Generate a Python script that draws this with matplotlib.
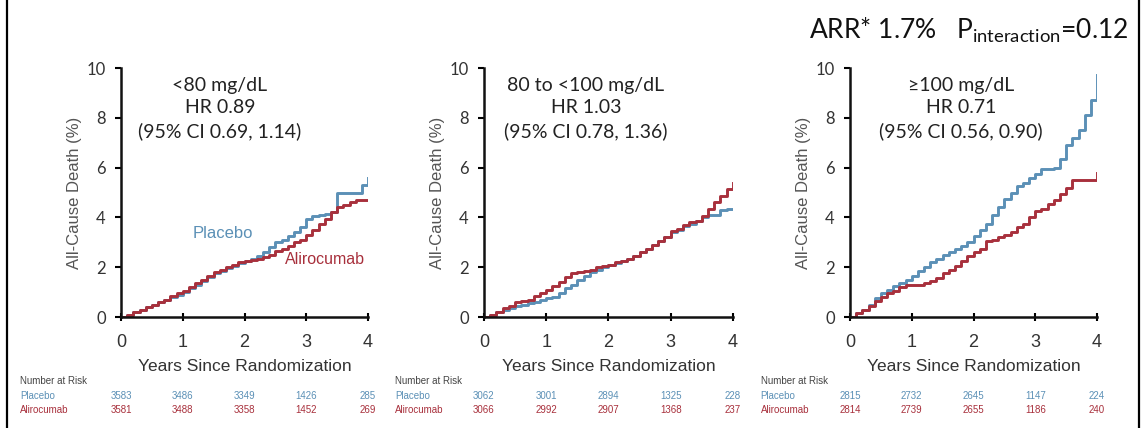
import matplotlib
matplotlib.use("Agg")
import matplotlib.pyplot as plt
from matplotlib.lines import Line2D
from matplotlib.transforms import blended_transform_factory

# time grid (years since randomization) for the KM curves
years = [0.0, 0.1, 0.2, 0.3, 0.4, 0.5, 0.6, 0.7, 0.8, 0.9,
         1.0, 1.1, 1.2, 1.3, 1.4, 1.5, 1.6, 1.7, 1.8, 1.9,
         2.0, 2.1, 2.2, 2.3, 2.4, 2.5, 2.6, 2.7, 2.8, 2.9,
         3.0, 3.1, 3.2, 3.3, 3.4, 3.5, 3.6, 3.7, 3.8, 3.9, 4.0]

# cumulative all-cause death (%)
placebo_lt80 = [0, 0.1, 0.2, 0.3, 0.4, 0.5, 0.6, 0.7, 0.8, 0.9,
                1.0, 1.15, 1.3, 1.45, 1.6, 1.75, 1.85, 1.95, 2.05, 2.15,
                2.25, 2.35, 2.45, 2.6, 2.8, 3.0, 3.1, 3.25, 3.4, 3.6,
                3.95, 4.05, 4.1, 4.15, 4.2, 5.0, 5.0, 5.0, 5.0, 5.3, 5.6]
alirocumab_lt80 = [0, 0.1, 0.2, 0.3, 0.4, 0.5, 0.6, 0.7, 0.85, 0.95,
                   1.05, 1.2, 1.35, 1.5, 1.65, 1.8, 1.9, 2.0, 2.1, 2.2,
                   2.25, 2.3, 2.35, 2.4, 2.5, 2.65, 2.75, 2.85, 3.0, 3.1,
                   3.3, 3.5, 3.75, 3.95, 4.2, 4.4, 4.5, 4.6, 4.7, 4.7, 4.7]
placebo_80_100 = [0, 0.1, 0.2, 0.3, 0.35, 0.45, 0.5, 0.55, 0.6, 0.7,
                  0.75, 0.8, 0.95, 1.15, 1.3, 1.5, 1.65, 1.8, 1.9, 2.0,
                  2.1, 2.15, 2.25, 2.35, 2.45, 2.6, 2.75, 2.9, 3.05, 3.2,
                  3.4, 3.5, 3.65, 3.75, 3.85, 4.0, 4.1, 4.1, 4.3, 4.35, 4.35]
alirocumab_80_100 = [0, 0.1, 0.2, 0.35, 0.45, 0.6, 0.65, 0.7, 0.85, 0.95,
                     1.1, 1.25, 1.4, 1.6, 1.75, 1.8, 1.85, 1.9, 2.0, 2.05,
                     2.1, 2.2, 2.25, 2.35, 2.45, 2.6, 2.75, 2.9, 3.05, 3.2,
                     3.45, 3.55, 3.7, 3.8, 3.85, 4.05, 4.35, 4.6, 4.85, 5.15, 5.4]
placebo_ge100 = [0, 0.15, 0.3, 0.5, 0.75, 0.95, 1.1, 1.25, 1.35, 1.5,
                 1.65, 1.85, 2.0, 2.2, 2.35, 2.5, 2.6, 2.75, 2.85, 3.0,
                 3.25, 3.5, 3.75, 4.1, 4.4, 4.75, 5.0, 5.25, 5.4, 5.6,
                 5.75, 5.95, 5.95, 6.0, 6.35, 6.9, 7.2, 7.5, 8.1, 8.7, 9.7]
alirocumab_ge100 = [0, 0.15, 0.3, 0.45, 0.65, 0.8, 0.95, 1.05, 1.2, 1.3,
                    1.3, 1.3, 1.35, 1.45, 1.55, 1.75, 1.9, 2.05, 2.25, 2.45,
                    2.6, 2.75, 3.05, 3.1, 3.2, 3.3, 3.4, 3.6, 3.75, 4.0,
                    4.25, 4.35, 4.55, 4.7, 4.95, 5.2, 5.5, 5.5, 5.5, 5.5, 5.8]

panel_titles = ["<80 mg/dL", "80 to <100 mg/dL", "\u2265100 mg/dL"]
hazard_ratios = ["HR 0.89", "HR 1.03", "HR 0.71"]
conf_intervals = ["(95% CI 0.69, 1.14)", "(95% CI 0.78, 1.36)", "(95% CI 0.56, 0.90)"]

risk_years = [0, 1, 2, 3, 4]
placebo_at_risk = [[3583, 3486, 3349, 1426, 285],
                   [3062, 3001, 2894, 1325, 228],
                   [2815, 2732, 2645, 1147, 224]]
alirocumab_at_risk = [[3581, 3488, 3358, 1452, 269],
                      [3066, 2992, 2907, 1368, 237],
                      [2814, 2739, 2655, 1186, 240]]

placebo_curves = [placebo_lt80, placebo_80_100, placebo_ge100]
alirocumab_curves = [alirocumab_lt80, alirocumab_80_100, alirocumab_ge100]

BLUE = "#5b90b6"
RED = "#a8303c"
calibri_like = ["Lato", "DejaVu Sans"]
arial_like = ["Liberation Sans", "DejaVu Sans"]

plt.rcParams["mathtext.fontset"] = "custom"
plt.rcParams["mathtext.rm"] = "Lato"

fig = plt.figure(figsize=(11.43, 4.28), dpi=100)

lefts = [0.1059, 0.4234, 0.7437]
widths = [0.2161, 0.2178, 0.2161]
label_offsets = [-1.63, -1.43, -1.45]
text_centers = [0.40, 0.41, 0.45]

for i in range(3):
    ax = fig.add_axes([lefts[i], 0.2593, widths[i], 0.5818])
    ax.plot(years, placebo_curves[i], drawstyle="steps-post", color=BLUE, lw=2.1)
    ax.plot(years, alirocumab_curves[i], drawstyle="steps-post", color=RED, lw=2.1)

    ax.set_xlim(0, 4)
    ax.set_ylim(0, 10)
    ax.set_xticks(risk_years)
    ax.set_yticks([0, 2, 4, 6, 8, 10])
    for s in ["top", "right"]:
        ax.spines[s].set_visible(False)
    for s in ["left", "bottom"]:
        ax.spines[s].set_linewidth(1.8)
        ax.spines[s].set_color("#111111")
    ax.tick_params(axis="y", direction="out", length=4, width=1.5, pad=7,
                   labelsize=12, labelcolor="#333333")
    ax.tick_params(axis="x", direction="inout", length=6, width=1.5, pad=9,
                   labelsize=13, labelcolor="#333333")
    for lab in ax.get_yticklabels():
        lab.set_family(calibri_like)
    for lab in ax.get_xticklabels():
        lab.set_family(arial_like)

    ax.set_ylabel("All-Cause Death (%)", fontsize=12, color="#555555",
                  family=arial_like, labelpad=3)
    ax.set_xlabel("Years Since Randomization", fontsize=12.5, color="#333333",
                  family=arial_like, labelpad=6)

    ax.text(text_centers[i], 0.965,
            panel_titles[i] + "\n" + hazard_ratios[i] + "\n" + conf_intervals[i],
            transform=ax.transAxes, ha="center", va="top", fontsize=14,
            family=calibri_like, color="#222222", linespacing=1.4)

    # number at risk table below the axis
    tr = blended_transform_factory(ax.transData, fig.transFigure)
    ax.text(label_offsets[i], 0.110, "Number at Risk", transform=tr,
            fontsize=7, color="#444444", family=arial_like, va="center")
    ax.text(label_offsets[i], 0.075, "Placebo", transform=tr,
            fontsize=7, color=BLUE, family=arial_like, va="center")
    ax.text(label_offsets[i], 0.043, "Alirocumab", transform=tr,
            fontsize=7, color=RED, family=arial_like, va="center")
    for x, n in zip(risk_years, placebo_at_risk[i]):
        ax.text(x, 0.075, str(n), transform=tr, fontsize=7, color=BLUE,
                family=arial_like, ha="center", va="center")
    for x, n in zip(risk_years, alirocumab_at_risk[i]):
        ax.text(x, 0.043, str(n), transform=tr, fontsize=7, color=RED,
                family=arial_like, ha="center", va="center")

    if i == 0:
        ax.text(1.65, 3.35, "Placebo", color=BLUE, fontsize=12,
                family=arial_like, ha="center", va="center")
        ax.text(3.3, 2.3, "Alirocumab", color=RED, fontsize=11.5,
                family=arial_like, ha="center", va="center", clip_on=False)

fig.text(0.987, 0.93, "ARR* 1.7%   P$\\mathregular{_{interaction}}$=0.12",
         ha="right", va="center", fontsize=19, family=calibri_like, color="#111111")

# frame lines at the left and right edges
fig.add_artist(Line2D([0.0065, 0.0065], [0, 1], transform=fig.transFigure,
                      color="black", lw=1.6))
fig.add_artist(Line2D([0.9968, 0.9968], [0, 1], transform=fig.transFigure,
                      color="black", lw=1.6))

fig.savefig("out.png", dpi=100, facecolor="white")
